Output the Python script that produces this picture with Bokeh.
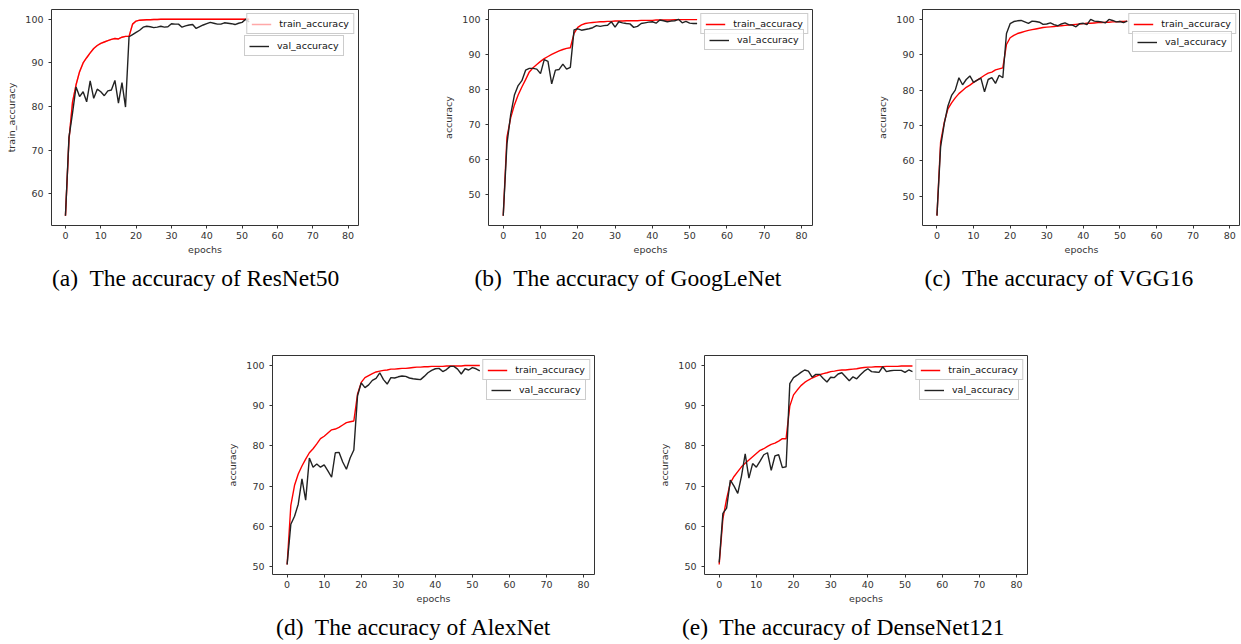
from bokeh.plotting import figure
from bokeh.layouts import column, row
from bokeh.models import Range1d, FixedTicker, Legend, LegendItem, Title, Spacer
from bokeh.embed import file_html
from bokeh.resources import INLINE

epochs = list(range(53))
x_ticks = [0, 10, 20, 30, 40, 50, 60, 70, 80]

resnet_train = [55.0, 72.5, 81.0, 85.0, 88.0, 90.0, 91.2, 92.3, 93.3, 94.0, 94.5, 94.8, 95.1, 95.4, 95.6, 95.5, 95.9, 96.1, 96.1,
                98.9, 99.6, 99.8, 99.85, 99.9, 99.9, 99.95, 99.95, 100, 100, 100, 100, 100, 100, 100, 100, 100, 100, 100, 100,
                100, 100, 100, 100, 100, 100, 100, 100, 100, 100, 100, 100, 100, 100]
resnet_val = [55.0, 73.0, 78.5, 84.5, 82.3, 83.4, 81.1, 85.9, 81.9, 84.0, 83.4, 82.5, 83.6, 83.8, 86.0, 80.8, 85.5, 79.9, 96.0,
              96.5, 97.0, 97.5, 98.2, 98.4, 98.3, 98.1, 98.2, 98.4, 98.2, 98.3, 99.0, 98.9, 98.9, 98.2, 98.5, 98.7, 98.8, 97.9,
              98.3, 98.7, 99.0, 99.3, 99.1, 98.9, 98.9, 99.2, 99.1, 99.0, 98.8, 99.1, 99.3, 100.0, 99.4]

googlenet_train = [44.0, 66.4, 71.9, 75.6, 78.4, 80.7, 82.8, 85.0, 86.2, 87.1, 88.0, 88.8, 89.4, 90.0, 90.5, 91.0, 91.4, 91.7, 91.9,
                   96.0, 97.7, 98.4, 98.8, 99.0, 99.1, 99.2, 99.3, 99.3, 99.4, 99.4, 99.5, 99.5, 99.5, 99.6, 99.6, 99.6, 99.6,
                   99.7, 99.7, 99.7, 99.7, 99.8, 99.8, 99.8, 99.8, 99.8, 99.9, 99.9, 99.9, 99.9, 99.9, 99.9, 99.9]
googlenet_val = [44.0, 64.5, 72.8, 78.4, 81.1, 82.5, 85.5, 86.0, 86.0, 85.8, 84.5, 88.5, 88.0, 81.6, 85.5, 85.7, 87.2, 85.8, 86.3,
                 97.0, 97.3, 96.9, 97.1, 97.3, 97.6, 98.2, 98.0, 98.2, 98.3, 99.3, 97.8, 99.3, 99.0, 98.8, 98.7, 97.7, 98.0,
                 98.8, 99.0, 99.2, 99.3, 98.9, 99.8, 99.6, 99.3, 99.5, 99.6, 100.0, 99.0, 99.4, 98.9, 98.8, 98.8]

vgg_train = [44.5, 65.3, 70.9, 74.7, 76.4, 77.8, 79.0, 79.9, 80.8, 81.4, 82.2, 82.8, 83.5, 84.2, 84.8, 85.1, 85.7, 86.0, 86.3,
             92.9, 94.8, 95.5, 96.0, 96.3, 96.6, 96.9, 97.1, 97.3, 97.5, 97.7, 97.8, 97.9, 98.0, 98.1, 98.2, 98.3, 98.4, 98.5,
             98.6, 98.7, 98.8, 98.9, 98.9, 99.0, 99.1, 99.1, 99.2, 99.2, 99.3, 99.3, 99.4, 99.4, 99.5]
vgg_val = [44.5, 64.0, 70.5, 75.5, 78.5, 80.0, 83.5, 81.5, 83.0, 84.0, 82.2, 82.8, 83.4, 79.5, 83.0, 83.5, 81.9, 84.2, 83.5,
           96.0, 98.8, 99.4, 99.6, 99.7, 99.3, 98.9, 99.5, 99.4, 99.2, 98.6, 98.7, 99.0, 98.5, 98.2, 98.7, 99.0, 98.5, 98.4,
           97.9, 98.8, 98.9, 98.5, 100.0, 99.5, 99.4, 99.3, 99.0, 100.0, 99.7, 99.3, 99.4, 99.1, 99.5]

alexnet_train = [50.5, 65.2, 70.2, 73.0, 75.0, 76.7, 78.3, 79.3, 80.5, 81.8, 82.4, 83.2, 84.0, 84.2, 84.6, 85.2, 85.8, 86.0, 86.2,
                 92.9, 95.8, 97.0, 97.5, 98.0, 98.4, 98.6, 98.8, 98.9, 99.1, 99.1, 99.2, 99.3, 99.3, 99.4, 99.5, 99.6, 99.6,
                 99.7, 99.7, 99.8, 99.8, 99.8, 99.8, 99.9, 99.9, 99.9, 99.9, 99.9, 100, 100, 100, 100, 100]
alexnet_val = [50.5, 60.5, 62.5, 65.5, 71.8, 66.5, 77.0, 74.7, 75.5, 74.7, 75.3, 73.8, 72.2, 78.3, 78.4, 76.0, 74.2, 77.0, 79.0,
               92.5, 95.7, 94.5, 95.2, 96.3, 96.8, 98.2, 96.5, 95.4, 97.0, 96.9, 97.2, 97.4, 97.3, 96.9, 96.7, 96.6, 96.5,
               97.3, 98.2, 98.8, 99.2, 99.3, 98.5, 99.0, 99.8, 99.8, 99.1, 97.9, 99.2, 98.9, 99.5, 99.2, 98.7]

densenet_train = [50.5, 61.9, 66.8, 70.8, 72.4, 73.6, 74.8, 75.7, 76.5, 77.3, 78.1, 78.9, 79.3, 79.9, 80.4, 80.7, 81.2, 81.8, 81.8,
                  89.9, 92.7, 93.9, 95.0, 95.8, 96.4, 96.9, 97.3, 97.7, 98.0, 98.2, 98.5, 98.6, 98.8, 98.9, 98.9, 99.0, 99.1,
                  99.2, 99.4, 99.5, 99.6, 99.6, 99.7, 99.7, 99.7, 99.8, 99.8, 99.8, 99.8, 99.9, 99.9, 99.9, 99.9]
densenet_val = [51.0, 63.2, 64.5, 71.5, 70.0, 68.2, 72.5, 78.0, 72.0, 75.6, 74.7, 76.2, 77.8, 78.3, 73.9, 77.5, 77.8, 74.6, 74.8,
                95.5, 97.0, 97.6, 98.3, 98.9, 98.6, 97.1, 97.8, 97.8, 96.8, 95.9, 97.1, 97.0, 97.9, 98.2, 97.2, 96.2, 97.2,
                96.7, 97.7, 98.6, 99.2, 98.5, 98.4, 98.3, 99.7, 98.5, 98.7, 98.8, 98.8, 98.8, 98.3, 98.9, 98.5]

SANS = "DejaVu Sans"
SERIF = "Liberation Serif"
TXT = "#333333"


def make_panel(train, val, ylabel, yr, yticks, caption, cap_offset, cap_standoff,
               W, H, L, R, T, B, pink_legend=False):
    p = figure(width=W, height=H, min_border_left=L, min_border_right=R,
               min_border_top=T, min_border_bottom=B,
               x_range=Range1d(-3.95, 82.95), y_range=Range1d(yr[0], yr[1]),
               output_backend="svg", toolbar_location=None, tools="")
    FW = W - L - R
    FH = H - T - B
    p.background_fill_color = "white"
    p.border_fill_color = "white"
    p.outline_line_color = "#333333"
    p.outline_line_width = 1
    p.xgrid.visible = False
    p.ygrid.visible = False

    for ax in (p.xaxis[0], p.yaxis[0]):
        ax.axis_line_color = None
        ax.major_tick_line_color = "#333333"
        ax.major_tick_out = 3
        ax.major_tick_in = 0
        ax.minor_tick_line_color = None
        ax.major_label_text_font = SANS
        ax.major_label_text_font_size = "9.5px"
        ax.major_label_text_color = TXT
        ax.axis_label_text_font = SANS
        ax.axis_label_text_font_size = "9.5px"
        ax.axis_label_text_font_style = "normal"
        ax.axis_label_text_color = TXT
    p.xaxis.ticker = FixedTicker(ticks=x_ticks)
    p.yaxis.ticker = FixedTicker(ticks=yticks)
    p.xaxis.axis_label = "epochs"
    p.yaxis.axis_label = ylabel
    p.xaxis.major_label_standoff = 3
    p.xaxis.axis_label_standoff = 2
    p.yaxis.major_label_standoff = 5
    p.yaxis.axis_label_standoff = 5

    if pink_legend:
        # light line used only as the legend sample; fully covered by the red line
        r_leg = p.line(epochs, train, line_color="#ffa8a8", line_width=1.4)
    r_train = p.line(epochs, train, line_color="#ff0000", line_width=1.4)
    r_val = p.line(epochs, val, line_color="#222222", line_width=1.4)
    if not pink_legend:
        r_leg = r_train

    common = dict(border_line_color="#cccccc", border_line_alpha=1.0,
                  background_fill_color="white", background_fill_alpha=0.8,
                  label_text_font=SANS, label_text_font_size="9.5px",
                  label_text_color="#111111", glyph_width=20, glyph_height=10,
                  label_height=10, label_standoff=8, padding=4, spacing=0)
    leg1 = Legend(items=[LegendItem(label="train_accuracy", renderers=[r_leg])],
                  location="top_right", margin=4, **common)
    leg2 = Legend(items=[LegendItem(label="val_accuracy", renderers=[r_val])],
                  location=(FW - 114, FH - 29 - 19), margin=0, **common)
    p.add_layout(leg1)
    p.add_layout(leg2)

    cap = Title(text=caption, align="left", offset=cap_offset,
                text_font=SERIF, text_font_size="23.5px", text_font_style="normal",
                text_color="black", standoff=cap_standoff)
    p.add_layout(cap, "below")
    return p


pa = make_panel(resnet_train, resnet_val, "train_accuracy", (52.75, 102.25), [60, 70, 80, 90, 100],
                "(a)\u00a0 The accuracy of ResNet50", 0.5, 10, 440, 300, 51, 82, 9, 74, pink_legend=True)
pb = make_panel(googlenet_train, googlenet_val, "accuracy", (41.2, 102.8), [50, 60, 70, 80, 90, 100],
                "(b)\u00a0 The accuracy of GoogLeNet", -14.0, 10, 434, 300, 42, 62, 2, 75)
pc = make_panel(vgg_train, vgg_val, "accuracy", (41.7, 102.8), [50, 60, 70, 80, 90, 100],
                "(c)\u00a0 The accuracy of VGG16", 2.1, 10, 366, 300, 42, 0, 5, 74)
pd = make_panel(alexnet_train, alexnet_val, "accuracy", (48.0, 102.5), [50, 60, 70, 80, 90, 100],
                "(d)\u00a0 The accuracy of AlexNet", 3.6, 10, 432, 344, 42, 62, 55, 67)
pe = make_panel(densenet_train, densenet_val, "accuracy", (48.0, 102.5), [50, 60, 70, 80, 90, 100],
                "(e)\u00a0 The accuracy of DenseNet121", -22.6, 10, 391, 344, 42, 20, 55, 67)

layout = column(row(pa, pb, pc), row(Spacer(width=224, height=344), pd, pe))

open("out.html", "w").write(file_html(layout, INLINE))
